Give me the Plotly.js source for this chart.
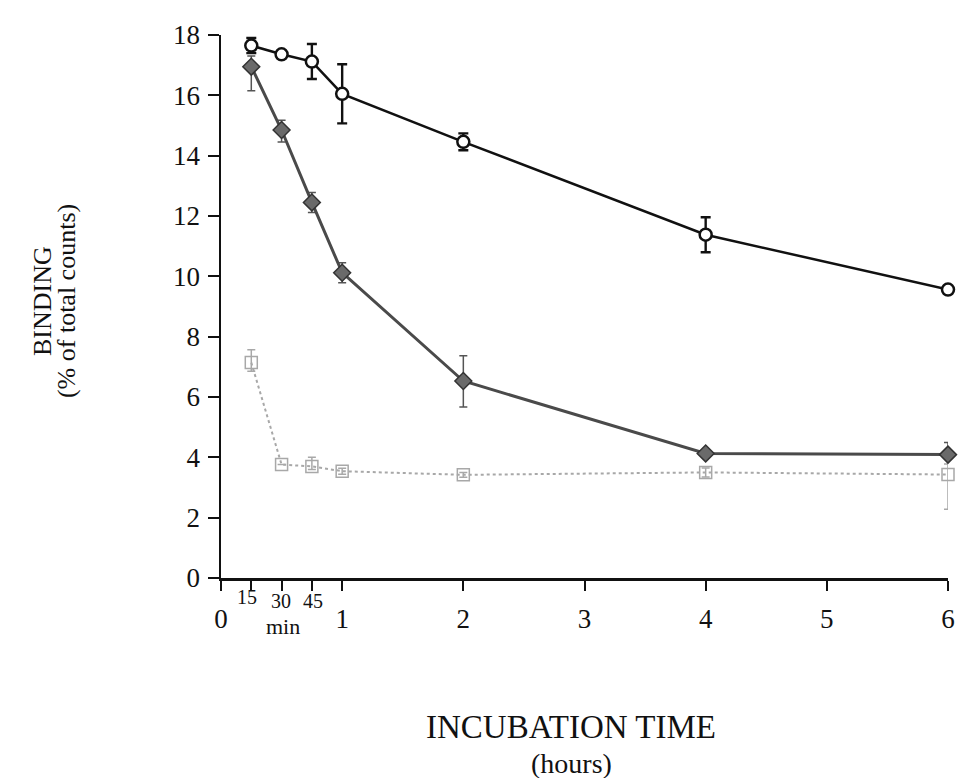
<!DOCTYPE html>
<html>
<head>
<meta charset="utf-8">
<script src="https://cdn.plot.ly/plotly-3.0.1.min.js"></script>
<style>html,body{margin:0;padding:0;background:#fff;}#chart{width:960px;height:778px;}</style>
</head>
<body>
<div id="chart"></div>
<script>
// Incubation time (hours)
var times = [0.25, 0.5, 0.75, 1, 2, 4, 6];

// Series A: open circles, solid black line
var bindA = [17.65, 17.36, 17.12, 16.05, 14.46, 11.38, 9.56];
var errA = [0.25, 0, 0.58, 0.98, 0.28, 0.58, 0];

// Series B: hatched diamonds, dark grey line
var bindB = [16.95, 14.85, 12.45, 10.12, 6.53, 4.13, 4.09];
var errBPlus = [0.35, 0.32, 0.33, 0.33, 0.84, 0.12, 0.4];
var errBMinus = [0.8, 0.4, 0.33, 0.33, 0.86, 0.12, 0.1];

// Series C: open squares, light grey dotted line
var bindC = [7.14, 3.76, 3.7, 3.54, 3.42, 3.5, 3.43];
var errCPlus = [0.43, 0, 0.3, 0.1, 0.08, 0.15, 0.35];
var errCMinus = [0.29, 0, 0.1, 0.1, 0.08, 0.15, 1.15];

// Axis ticks and titles
var xTickVals = [0, 0.25, 0.5, 0.75, 1, 2, 3, 4, 5, 6];
var xTickText = ['0', '', '', '', '1', '2', '3', '4', '5', '6'];
var minuteVals = [0.25, 0.5, 0.75];
var minuteText = ['15', '30', '45'];
var minuteUnit = 'min';
var yTickVals = [0, 2, 4, 6, 8, 10, 12, 14, 16, 18];
var xTitleLines = ['INCUBATION TIME', '(hours)'];
var yTitleLines = ['BINDING', '(% of total counts)'];

var FONT = 'Liberation Serif, Times New Roman, serif';

var traces = [
  {
    x: times, y: bindC, type: 'scatter', mode: 'lines+markers', name: 'C',
    line: {color: '#a8a8a8', width: 2, dash: 'dot'},
    marker: {symbol: 'square-open', size: 12, color: '#a8a8a8', line: {width: 1.5, color: '#a8a8a8'}},
    error_y: {type: 'data', symmetric: false, array: errCPlus, arrayminus: errCMinus, color: '#a8a8a8', thickness: 1.5, width: 4},
    cliponaxis: false
  },
  {
    x: times, y: bindB, type: 'scatter', mode: 'lines+markers', name: 'B',
    line: {color: '#4a4a4a', width: 3},
    marker: {symbol: 'diamond', size: 13, color: '#6a6a6a', line: {width: 1.5, color: '#333'}},
    error_y: {type: 'data', symmetric: false, array: errBPlus, arrayminus: errBMinus, color: '#555', thickness: 1.5, width: 4},
    cliponaxis: false
  },
  {
    x: times, y: bindA, type: 'scatter', mode: 'lines+markers', name: 'A',
    line: {color: '#111', width: 2.5},
    marker: {symbol: 'circle', size: 12, color: '#fff', line: {width: 2.5, color: '#111'}},
    error_y: {type: 'data', array: errA, color: '#111', thickness: 2.4, width: 5},
    cliponaxis: false
  }
];

var annotations = [];
var minuteShift = [[-4, -19], [-1, -23], [1, -23]];
for (var i = 0; i < minuteVals.length; i++) {
  annotations.push({
    x: minuteVals[i], y: 0, xref: 'x', yref: 'paper', text: minuteText[i], showarrow: false,
    xanchor: 'center', yanchor: 'middle', xshift: minuteShift[i][0], yshift: minuteShift[i][1],
    font: {family: FONT, size: 20, color: '#111'}
  });
}
annotations.push({
  x: minuteVals[1], y: 0, xref: 'x', yref: 'paper', text: minuteUnit, showarrow: false,
  xanchor: 'center', yanchor: 'middle', xshift: 1, yshift: -48,
  font: {family: FONT, size: 22, color: '#111'}
});

// Axis titles (two tight lines each)
annotations.push({
  x: 0.482, y: 0, xref: 'paper', yref: 'paper', text: xTitleLines[0], showarrow: false,
  xanchor: 'center', yanchor: 'middle', yshift: -149,
  font: {family: FONT, size: 33, color: '#111'}
});
annotations.push({
  x: 0.482, y: 0, xref: 'paper', yref: 'paper', text: xTitleLines[1], showarrow: false,
  xanchor: 'center', yanchor: 'middle', yshift: -185,
  font: {family: FONT, size: 28, color: '#111'}
});
annotations.push({
  x: 0, y: 0.51, xref: 'paper', yref: 'paper', text: yTitleLines[0], showarrow: false, textangle: -90,
  xanchor: 'center', yanchor: 'middle', xshift: -179,
  font: {family: FONT, size: 26, color: '#111'}
});
annotations.push({
  x: 0, y: 0.51, xref: 'paper', yref: 'paper', text: yTitleLines[1], showarrow: false, textangle: -90,
  xanchor: 'center', yanchor: 'middle', xshift: -155,
  font: {family: FONT, size: 26, color: '#111'}
});

var layout = {
  width: 960, height: 778,
  margin: {l: 221, r: 12, t: 35, b: 200},
  paper_bgcolor: '#fff', plot_bgcolor: '#fff',
  showlegend: false,
  font: {family: FONT, color: '#111', size: 26},
  xaxis: {
    range: [0, 6], tickvals: xTickVals, ticktext: xTickText,
    showgrid: false, zeroline: false, showline: true, linecolor: '#111', linewidth: 2.5,
    ticks: 'outside', ticklen: 10, tickwidth: 2, tickcolor: '#111', ticklabelstandoff: 5,
    tickfont: {family: FONT, size: 27, color: '#111'}
  },
  yaxis: {
    range: [0, 18], tickvals: yTickVals,
    showgrid: false, zeroline: false, showline: true, linecolor: '#111', linewidth: 2.5,
    ticks: 'outside', ticklen: 11, tickwidth: 2, tickcolor: '#111', ticklabelstandoff: 2,
    tickfont: {family: FONT, size: 27, color: '#111'}
  },
  annotations: annotations
};

Plotly.newPlot('chart', traces, layout, {displayModeBar: false, staticPlot: true});
</script>
</body>
</html>
